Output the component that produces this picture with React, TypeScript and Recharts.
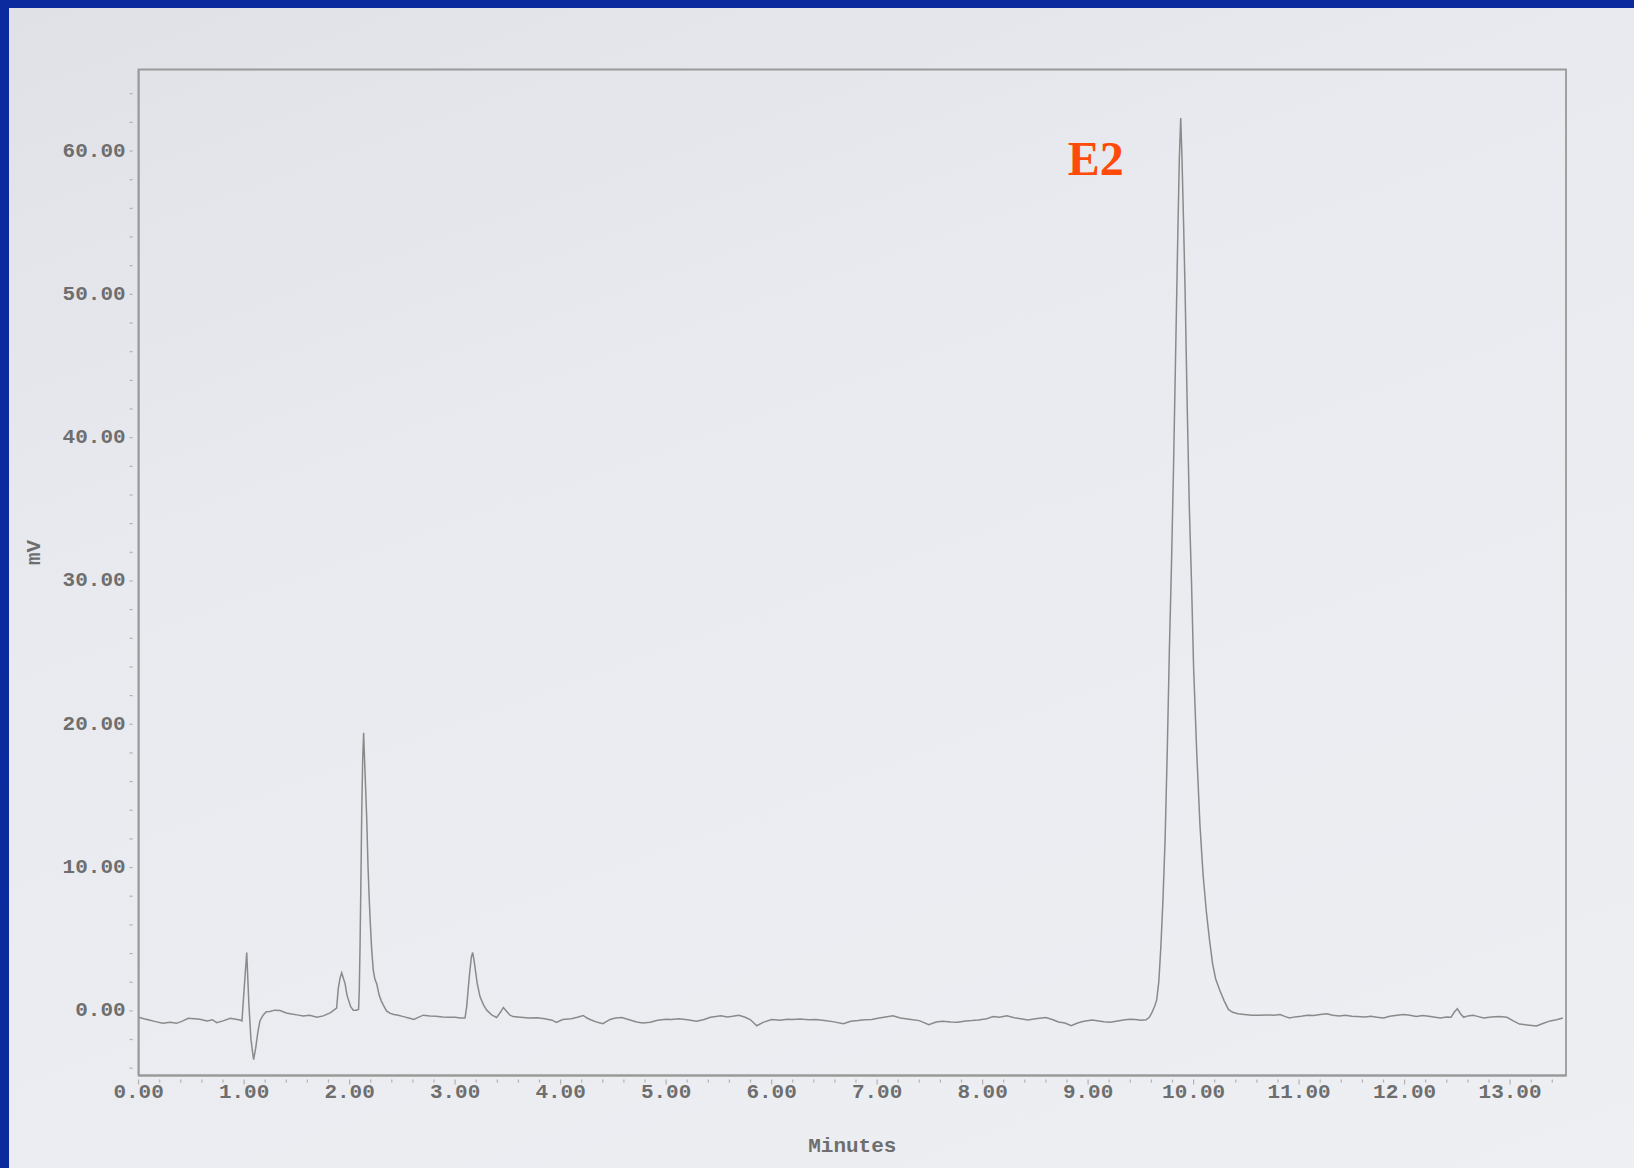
import React from "react";
import { LineChart, Line, XAxis, YAxis, ReferenceArea, ReferenceDot } from "recharts";

// Retention time (min) and detector response (mV) of the E2 run
const minutes: number[] = [
  0.0, 0.05, 0.1, 0.16, 0.23, 0.3, 0.36, 0.42, 0.47, 0.53, 0.58, 0.65, 0.7, 0.74, 0.8, 0.87, 0.92, 0.96, 0.98,
  1.0, 1.025, 1.045, 1.065, 1.09, 1.11, 1.13, 1.15, 1.18, 1.21, 1.245, 1.29, 1.34, 1.4, 1.45, 1.5, 1.56, 1.62,
  1.69, 1.75, 1.82, 1.86, 1.877, 1.893, 1.91, 1.925, 1.94, 1.957, 1.975, 1.99, 2.01, 2.035, 2.065, 2.085, 2.092,
  2.099, 2.107, 2.115, 2.124, 2.133, 2.142, 2.152, 2.162, 2.175, 2.185, 2.195, 2.21, 2.225, 2.24, 2.257, 2.28,
  2.3, 2.32, 2.35, 2.38, 2.42, 2.46, 2.51, 2.56, 2.61, 2.65, 2.7, 2.76, 2.82, 2.88, 2.94, 3.0, 3.05, 3.094,
  3.11, 3.125, 3.14, 3.155, 3.167, 3.18, 3.195, 3.21, 3.236, 3.27, 3.3, 3.35, 3.394, 3.43, 3.457, 3.49, 3.52,
  3.55, 3.62, 3.7, 3.78, 3.85, 3.92, 3.96, 4.02, 4.1, 4.16, 4.215, 4.25, 4.29, 4.35, 4.4, 4.47, 4.52, 4.58,
  4.65, 4.72, 4.78, 4.85, 4.92, 5.0, 5.05, 5.12, 5.2, 5.29, 5.36, 5.42, 5.47, 5.52, 5.58, 5.63, 5.69, 5.75,
  5.8, 5.86, 5.92, 6.0, 6.08, 6.15, 6.2, 6.27, 6.35, 6.42, 6.5, 6.58, 6.68, 6.75, 6.82, 6.88, 6.95, 7.02,
  7.08, 7.15, 7.22, 7.32, 7.4, 7.49, 7.56, 7.62, 7.7, 7.76, 7.84, 7.9, 7.96, 8.04, 8.1, 8.16, 8.23, 8.3,
  8.36, 8.43, 8.5, 8.56, 8.6, 8.66, 8.72, 8.78, 8.84, 8.9, 8.96, 9.04, 9.1, 9.15, 9.21, 9.28, 9.35, 9.4,
  9.45, 9.5, 9.55, 9.58, 9.6, 9.63, 9.65, 9.67, 9.69, 9.71, 9.73, 9.75, 9.77, 9.79, 9.81, 9.83, 9.85, 9.865,
  9.878, 9.89, 9.905, 9.92, 9.94, 9.96, 9.98, 10.0, 10.03, 10.06, 10.09, 10.12, 10.15, 10.18, 10.21, 10.25,
  10.29, 10.33, 10.37, 10.42, 10.48, 10.55, 10.62, 10.7, 10.76, 10.82, 10.87, 10.91, 10.96, 11.02, 11.08,
  11.14, 11.2, 11.26, 11.32, 11.38, 11.44, 11.5, 11.55, 11.62, 11.68, 11.74, 11.8, 11.86, 11.93, 11.99,
  12.05, 12.11, 12.17, 12.23, 12.29, 12.34, 12.4, 12.44, 12.47, 12.5, 12.53, 12.56, 12.6, 12.65, 12.7,
  12.75, 12.82, 12.9, 12.97, 13.03, 13.09, 13.16, 13.25, 13.31, 13.38, 13.44, 13.5,
];

const millivolts: number[] = [
  -0.45, -0.55, -0.64, -0.75, -0.87, -0.8, -0.87, -0.7, -0.52, -0.55, -0.59, -0.7, -0.62, -0.82, -0.7, -0.52, -0.58, -0.64, -0.7,
  1.5, 4.07, 0.5, -2.0, -3.4, -2.6, -1.5, -0.7, -0.3, -0.06, -0.05, 0.05, 0.02, -0.15, -0.22, -0.28, -0.35, -0.3,
  -0.45, -0.35, -0.12, 0.1, 0.19, 1.57, 2.3, 2.66, 2.3, 1.9, 1.1, 0.75, 0.3, 0.05, 0.05, 0.1, 1.5,
  4.5, 9, 13.8, 17.5, 19.4, 17.5, 15.5, 13.5, 10, 8, 6.3, 4.2, 2.8, 2.2, 1.9, 1.1,
  0.7, 0.4, 0.0, -0.16, -0.25, -0.3, -0.4, -0.5, -0.6, -0.45, -0.3, -0.35, -0.38, -0.42, -0.45, -0.45, -0.5, -0.5,
  0.3, 1.6, 2.8, 3.8, 4.07, 3.5, 2.7, 1.9, 1.0, 0.4, 0.05, -0.3, -0.46, -0.1, 0.24, -0.05, -0.3,
  -0.4, -0.45, -0.5, -0.48, -0.55, -0.65, -0.8, -0.6, -0.55, -0.45, -0.32, -0.5, -0.64, -0.8, -0.9, -0.6, -0.5, -0.47,
  -0.62, -0.78, -0.84, -0.8, -0.65, -0.58, -0.6, -0.55, -0.62, -0.72, -0.6, -0.45, -0.4, -0.34, -0.42, -0.38, -0.3, -0.45,
  -0.62, -1.04, -0.8, -0.6, -0.65, -0.58, -0.6, -0.56, -0.62, -0.6, -0.68, -0.75, -0.9, -0.72, -0.68, -0.62, -0.6, -0.5,
  -0.42, -0.34, -0.5, -0.6, -0.68, -0.96, -0.78, -0.72, -0.78, -0.79, -0.7, -0.68, -0.64, -0.55, -0.4, -0.45, -0.34, -0.48,
  -0.55, -0.64, -0.55, -0.5, -0.47, -0.6, -0.78, -0.85, -1.04, -0.85, -0.72, -0.64, -0.7, -0.76, -0.79, -0.7, -0.62, -0.58,
  -0.6, -0.66, -0.62, -0.45, -0.2, 0.3, 0.75, 2.0, 4.5, 7.8, 12, 18, 25, 31, 38, 46, 54, 59.5,
  62.3, 59.5, 55, 50, 42, 35, 30, 24, 18, 13, 9.5, 7, 5, 3.3, 2.2, 1.4,
  0.7, 0.1, -0.1, -0.2, -0.25, -0.3, -0.3, -0.28, -0.3, -0.26, -0.4, -0.5, -0.42, -0.38, -0.3,
  -0.32, -0.25, -0.2, -0.3, -0.35, -0.3, -0.38, -0.4, -0.42, -0.38, -0.45, -0.5, -0.38, -0.3, -0.25,
  -0.3, -0.4, -0.32, -0.38, -0.45, -0.5, -0.42, -0.45, -0.1, 0.15, -0.2, -0.45, -0.35, -0.3, -0.4,
  -0.5, -0.42, -0.4, -0.45, -0.7, -0.92, -0.98, -1.05, -0.88, -0.7, -0.62, -0.5,
];

// Labelled axis values
const minuteLabels: number[] = [0, 1, 2, 3, 4, 5, 6, 7, 8, 9, 10, 11, 12, 13];
const mvLabels: number[] = [0, 10, 20, 30, 40, 50, 60];

// Peak annotation
const peakName = "E2";
const peakTime = 9.878;
const peakHeight = 62.3;

const X_MAX = 13.53;
const Y_MIN = -4.51;
const Y_MAX = 65.69;

// minor tick positions (every 0.2 min, every 2 mV)
const xTicks = Array.from({ length: 68 }, (_, i) => Math.round(i * 20) / 100);
const yTicks = Array.from({ length: 35 }, (_, i) => -4 + i * 2);

const data = minutes.map((t, i) => ({ t, mv: millivolts[i] }));

const MONO = "'Liberation Mono', 'Courier New', monospace";
const TEXT_FILL = "#6e6e6e";
const AXIS_STROKE = "#9a9a9a";

const XTick = (props: any) => {
  const { x, y, payload } = props;
  const v: number = payload.value;
  const isMajor = minuteLabels.some((m) => Math.abs(m - v) < 1e-6);
  return (
    <g>
      <line x1={x} x2={x} y1={y + 4} y2={y + (isMajor ? 9 : 7)} stroke="#b0b0b0" strokeWidth={1.2} />
      {isMajor && (
        <text
          x={x}
          y={y + 17}
          textAnchor="middle"
          dominantBaseline="central"
          fontFamily={MONO}
          fontWeight={700}
          fontSize={21}
          fill={TEXT_FILL}
        >
          {v.toFixed(2)}
        </text>
      )}
    </g>
  );
};

const YTick = (props: any) => {
  const { x, y, payload } = props;
  const v: number = payload.value;
  const isMajor = mvLabels.includes(v);
  return (
    <g>
      <line x1={x - 9} x2={x - 6} y1={y} y2={y} stroke="#b0b0b0" strokeWidth={1.2} />
      {isMajor && (
        <text
          x={x - 13}
          y={y}
          textAnchor="end"
          dominantBaseline="central"
          fontFamily={MONO}
          fontWeight={700}
          fontSize={21}
          fill={TEXT_FILL}
        >
          {v.toFixed(2)}
        </text>
      )}
    </g>
  );
};

const XTitle = (props: any) => {
  const vb = props.viewBox || { x: 0, y: 0, width: 0, height: 0 };
  return (
    <text
      x={vb.x + vb.width / 2}
      y={vb.y + 71}
      textAnchor="middle"
      dominantBaseline="central"
      fontFamily={MONO}
      fontWeight={700}
      fontSize={21}
      fill={TEXT_FILL}
    >
      Minutes
    </text>
  );
};

const YTitle = (props: any) => {
  const vb = props.viewBox || { x: 0, y: 0, width: 0, height: 0 };
  const cx = vb.x + 34;
  const cy = vb.y + vb.height / 2 - 20;
  return (
    <text
      x={cx}
      y={cy}
      transform={`rotate(-90, ${cx}, ${cy})`}
      textAnchor="middle"
      dominantBaseline="central"
      fontFamily={MONO}
      fontWeight={700}
      fontSize={21}
      fill={TEXT_FILL}
    >
      mV
    </text>
  );
};

const PeakLabel = (props: any) => {
  const vb = props.viewBox || { x: 0, y: 0 };
  const px = vb.x + (vb.width || 0) / 2;
  const py = vb.y + (vb.height || 0) / 2;
  return (
    <text
      x={px - 113}
      y={py + 57}
      textAnchor="start"
      fontFamily="'Liberation Serif', 'Times New Roman', serif"
      fontWeight={700}
      fontSize={48}
      fill="#ff4b0a"
    >
      {peakName}
    </text>
  );
};

export default function App() {
  return (
    <div
      style={{
        position: "absolute",
        left: 0,
        top: 0,
        width: 1634,
        height: 1168,
        overflow: "hidden",
        background: "linear-gradient(160deg, #e0e1e7 0%, #e9eaef 35%, #eeeff3 100%)",
      }}
    >
      <div style={{ position: "absolute", left: 0, top: 0, width: 1634, height: 8, background: "#0a2a9e" }} />
      <div style={{ position: "absolute", left: 0, top: 0, width: 9, height: 1168, background: "#0a2a9e" }} />
      <div style={{ position: "absolute", left: 0, top: 0 }}>
        <LineChart width={1634} height={1168} data={data} margin={{ top: 69.5, right: 68, left: 0, bottom: 0 }}>
          <XAxis
            dataKey="t"
            type="number"
            domain={[0, X_MAX]}
            ticks={xTicks}
            interval={0}
            allowDataOverflow
            height={92.5}
            tickSize={0}
            tickMargin={0}
            tickLine={false}
            axisLine={{ stroke: AXIS_STROKE, strokeWidth: 1.8 }}
            tick={<XTick />}
            label={<XTitle />}
          />
          <YAxis
            type="number"
            domain={[Y_MIN, Y_MAX]}
            ticks={yTicks}
            interval={0}
            allowDataOverflow
            width={138.6}
            tickSize={0}
            tickMargin={0}
            tickLine={false}
            axisLine={{ stroke: AXIS_STROKE, strokeWidth: 1.8 }}
            tick={<YTick />}
            label={<YTitle />}
          />
          <ReferenceArea
            x1={0}
            x2={X_MAX}
            y1={Y_MIN}
            y2={Y_MAX}
            fill="none"
            fillOpacity={0}
            stroke={AXIS_STROKE}
            strokeWidth={1.8}
          />
          <Line
            type="linear"
            dataKey="mv"
            stroke="#8a8a8a"
            strokeWidth={1.5}
            dot={false}
            activeDot={false}
            isAnimationActive={false}
          />
          <ReferenceDot
            x={peakTime}
            y={peakHeight}
            r={0}
            fill="none"
            stroke="none"
            label={<PeakLabel />}
          />
        </LineChart>
      </div>
    </div>
  );
}
